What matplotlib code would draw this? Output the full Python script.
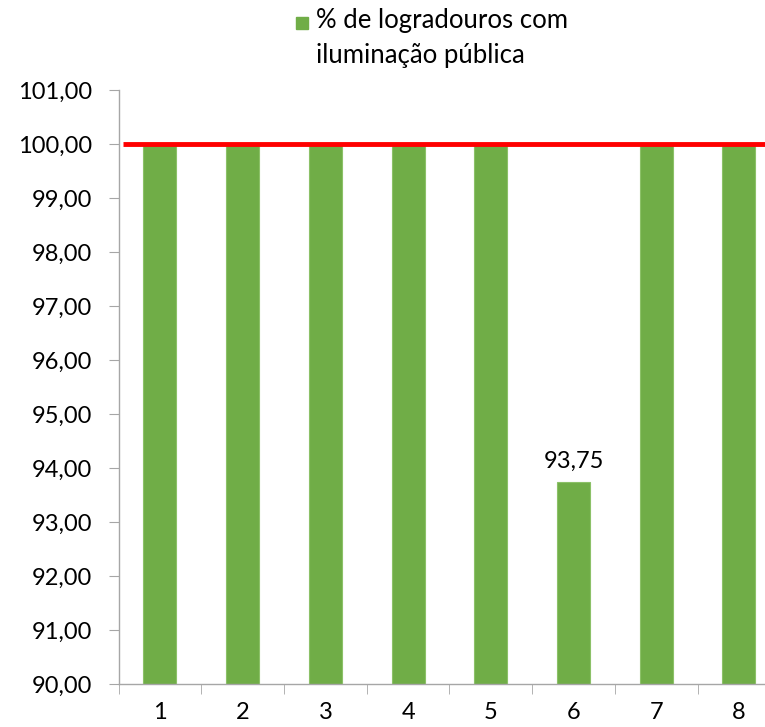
import matplotlib.pyplot as plt
from matplotlib.patches import Rectangle
import numpy as np

categories = ['1', '2', '3', '4', '5', '6', '7', '8']
values = [100, 100, 100, 100, 100, 93.75, 100, 100]
meta = 100
label = '% de logradouros com\niluminação pública'

plt.rcParams['font.family'] = ['Lato', 'DejaVu Sans']

fig = plt.figure(figsize=(7.65, 7.27), dpi=100)
ax = fig.add_axes([0.155, 0.059, 0.865, 0.817])

x = np.arange(len(categories))
ax.bar(x, values, width=0.4, color='#70AD47', edgecolor='#8CC168', linewidth=0.8, zorder=2)
ax.hlines(meta, -0.45, len(categories), color='#FF0000', linewidth=3.5, zorder=3)

# data label only for the point below the target
for xi, v in zip(x, values):
    if v < meta:
        ax.text(xi, v + 0.18, f'{v:.2f}'.replace('.', ','), ha='center', va='bottom', fontsize=17)

ax.set_xlim(-0.5, len(categories) - 0.5)
ax.set_ylim(90, 101)
ax.set_yticks(np.arange(90, 102, 1))
ax.set_yticklabels([f'{v:.2f}'.replace('.', ',') for v in np.arange(90, 102, 1)], fontsize=17)
ax.set_xticks(x)
ax.set_xticklabels(categories, fontsize=17)
ax.set_xticks(np.arange(-0.5, len(categories), 1), minor=True)

for s in ['top', 'right']:
    ax.spines[s].set_visible(False)
for s in ['left', 'bottom']:
    ax.spines[s].set_color('#A6A6A6')
    ax.spines[s].set_linewidth(1.0)
ax.tick_params(axis='y', length=7, color='#A6A6A6', pad=12)
ax.tick_params(axis='x', which='major', length=0, pad=13)
ax.tick_params(axis='x', which='minor', length=7, color='#A6A6A6')

# legend at top
fig.patches.append(Rectangle((296 / 765, 1 - 29 / 727), 12 / 765, 12 / 727,
                             transform=fig.transFigure, color='#70AD47'))
fig.text(316 / 765, 1 - 8 / 727, label, ha='left', va='top', fontsize=18.5, linespacing=1.5)

fig.savefig('out.png', dpi=100)
